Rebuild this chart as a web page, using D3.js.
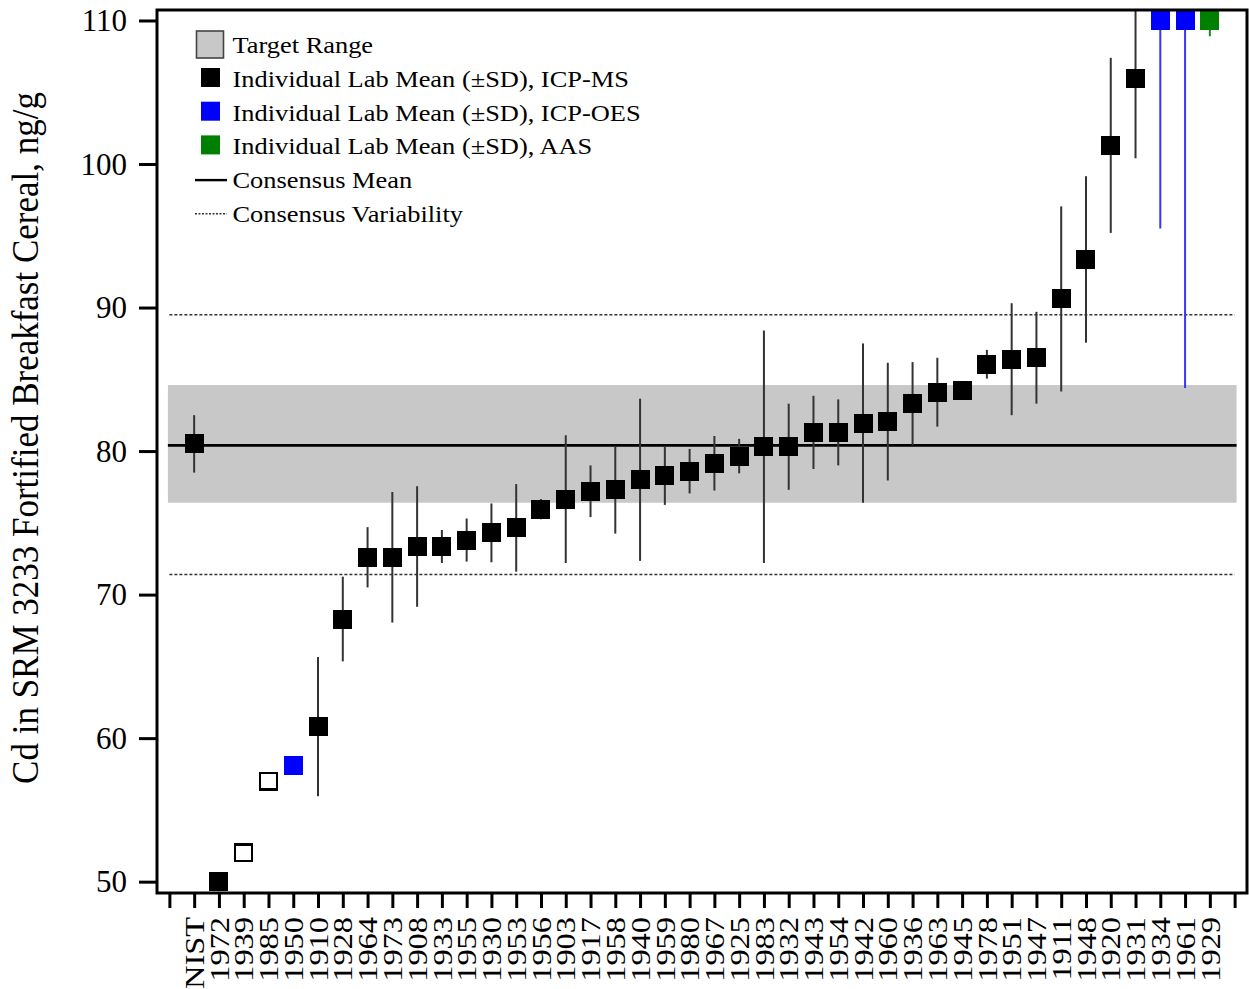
<!DOCTYPE html>
<html>
<head>
<meta charset="utf-8">
<script src="https://cdn.jsdelivr.net/npm/d3@7"></script>
<style>
  html, body { margin: 0; padding: 0; background: #fff; }
  svg { display: block; }
  text { font-family: "Liberation Serif", "Times New Roman", serif; fill: #000; }
</style>
</head>
<body>
<svg id="chart" width="1249" height="989"></svg>
<script>
// Laboratory codes, in plotting order
const labs = ["NIST","1972","1939","1985","1950","1910","1928","1964","1973","1908",
  "1933","1955","1930","1953","1956","1903","1917","1958","1940","1959",
  "1980","1967","1925","1983","1932","1943","1954","1942","1960","1936",
  "1963","1945","1978","1951","1947","1911","1948","1920","1931","1934",
  "1961","1929"];

// Lab means (ng/g); off-scale results are pinned to the top of the axis (110)
const labMeans = [80.5, 50.0, 52.0, 57.0, 58.1, 60.8, 68.3, 72.6, 72.6, 73.35,
  73.35, 73.8, 74.3, 74.65, 75.95, 76.65, 77.2, 77.3, 78.0, 78.3,
  78.6, 79.15, 79.65, 80.3, 80.3, 81.3, 81.3, 81.95, 82.05, 83.3,
  84.1, 84.2, 86.05, 86.4, 86.5, 90.6, 93.35, 101.3, 105.95, 110.0,
  110.0, 110.0];

// Standard deviations (null: no bar reported)
const labSDs = [2.0, null, null, null, null, 4.85, 2.95, 2.1, 4.55, 4.2,
  1.15, 1.5, 2.05, 3.05, 0.7, 4.45, 1.8, 3.05, 5.65, 2.05,
  1.55, 1.9, 1.2, 8.1, 3.0, 2.55, 2.3, 5.55, 4.1, 2.9,
  2.4, 0.6, 1.0, 3.9, 3.2, 6.45, 5.8, 6.1, 5.55, 14.5,
  25.6, 1.1];

// Measurement technique per lab ("none" = open marker)
const labMethods = ["ms","ms","none","none","oes","ms","ms","ms","ms","ms",
  "ms","ms","ms","ms","ms","ms","ms","ms","ms","ms",
  "ms","ms","ms","ms","ms","ms","ms","ms","ms","ms",
  "ms","ms","ms","ms","ms","ms","ms","ms","ms","oes",
  "oes","aas"];

const consensusMean = 80.4;
const targetRange = [76.4, 84.6];
const consensusVariability = [71.4, 89.5];

const yTicks = [50, 60, 70, 80, 90, 100, 110];

const legendLabels = [
  "Target Range",
  "Individual Lab Mean (\u00B1SD), ICP-MS",
  "Individual Lab Mean (\u00B1SD), ICP-OES",
  "Individual Lab Mean (\u00B1SD), AAS",
  "Consensus Mean",
  "Consensus Variability"
];

const methodFill = { ms: "#000000", oes: "#0000ff", aas: "#008000", none: "#ffffff" };
const barColor = { ms: "#333333", oes: "#3535ff", aas: "#1a8a1a", none: "#333333" };

const svg = d3.select("#chart");
const frame = { left: 157, right: 1247, top: 10, bottom: 893 };

const x = d3.scaleLinear().domain([-1.5, 42.5]).range([frame.left, frame.right]);
const y = d3.scaleLinear().domain([49.21, 110.73]).range([frame.bottom, frame.top]);

svg.append("defs").append("clipPath").attr("id", "plotClip")
  .append("rect")
  .attr("x", frame.left).attr("y", frame.top)
  .attr("width", frame.right - frame.left).attr("height", frame.bottom - frame.top);

const plot = svg.append("g").attr("clip-path", "url(#plotClip)");

const bandX0 = x(-1.06), bandX1 = x(42.08);

// target range band
plot.append("rect")
  .attr("x", bandX0).attr("width", bandX1 - bandX0)
  .attr("y", y(targetRange[1])).attr("height", y(targetRange[0]) - y(targetRange[1]))
  .attr("fill", "#c8c8c8");

// consensus mean
plot.append("line")
  .attr("x1", bandX0).attr("x2", bandX1)
  .attr("y1", y(consensusMean)).attr("y2", y(consensusMean))
  .attr("stroke", "#000").attr("stroke-width", 2.6);

// consensus variability
plot.selectAll("line.var").data(consensusVariability).join("line")
  .attr("class", "var")
  .attr("x1", x(-1.0)).attr("x2", bandX1 - 2)
  .attr("y1", d => y(d)).attr("y2", d => y(d))
  .attr("stroke", "#333").attr("stroke-width", 1.6)
  .attr("stroke-dasharray", "3,2");

const pts = labs.map((lab, i) => ({ i, lab, mean: labMeans[i], sd: labSDs[i], method: labMethods[i] }));

// error bars
plot.selectAll("line.err").data(pts.filter(d => d.sd != null)).join("line")
  .attr("class", "err")
  .attr("x1", d => x(d.i)).attr("x2", d => x(d.i))
  .attr("y1", d => y(d.mean + d.sd)).attr("y2", d => y(d.mean - d.sd))
  .attr("stroke", d => barColor[d.method]).attr("stroke-width", 2);

// lab means
const sq = 19;
plot.selectAll("rect.pt").data(pts).join("rect")
  .attr("class", "pt")
  .attr("x", d => x(d.i) - sq / 2).attr("y", d => y(d.mean) - sq / 2)
  .attr("width", sq).attr("height", sq)
  .attr("fill", d => methodFill[d.method])
  .attr("stroke", d => d.method === "none" ? "#000" : "none")
  .attr("stroke-width", 2.2)
  .attr("shape-rendering", "crispEdges");

// open markers drawn inset so outer size matches the filled ones
plot.selectAll("rect.pt").filter(d => d.method === "none")
  .attr("x", d => x(d.i) - sq / 2 + 1.1).attr("y", d => y(d.mean) - sq / 2 + 1.1)
  .attr("width", sq - 2.2).attr("height", sq - 2.2);

// frame
svg.append("rect")
  .attr("x", frame.left).attr("y", frame.top)
  .attr("width", frame.right - frame.left).attr("height", frame.bottom - frame.top)
  .attr("fill", "none").attr("stroke", "#000").attr("stroke-width", 3);

// y axis
const yAxis = svg.append("g")
  .attr("transform", `translate(${frame.left},0)`)
  .call(d3.axisLeft(y).tickValues(yTicks).tickSize(18).tickPadding(12).tickFormat(d3.format("d")));
yAxis.select(".domain").remove();
yAxis.selectAll(".tick line").attr("stroke", "#000").attr("stroke-width", 3);
yAxis.selectAll(".tick text")
  .style("font-family", "'Liberation Serif', serif")
  .attr("font-size", 31).attr("dy", "0.33em");

// x axis
const xAxis = svg.append("g")
  .attr("transform", `translate(0,${frame.bottom})`)
  .call(d3.axisBottom(x).tickValues(d3.range(-1, 43)).tickSize(15)
    .tickFormat(i => (i >= 0 && i < labs.length) ? labs[i] : ""));
xAxis.select(".domain").remove();
xAxis.selectAll(".tick line").attr("stroke", "#000").attr("stroke-width", 3);
xAxis.selectAll(".tick text")
  .style("font-family", "'Liberation Serif', serif")
  .attr("font-size", 27)
  .attr("x", 0).attr("y", 0).attr("dy", "0.34em")
  .attr("text-anchor", "end")
  .attr("transform", "translate(0,24) rotate(-90) scale(1.2,1)");

// y axis title
svg.append("text")
  .attr("transform", "translate(38,438) rotate(-90) scale(1,1.06)")
  .attr("text-anchor", "middle")
  .attr("font-size", 35)
  .text("Cd in SRM 3233 Fortified Breakfast Cereal, ng/g");

// legend
const legend = svg.append("g");
const rowY = i => 53.3 + i * 33.7;
const textX = 232.5;

legend.append("rect")
  .attr("x", 196.5).attr("y", 31).attr("width", 27).attr("height", 27)
  .attr("fill", "#c8c8c8").attr("stroke", "#444").attr("stroke-width", 1.6);

["ms", "oes", "aas"].forEach((m, k) => {
  legend.append("rect")
    .attr("x", 201).attr("y", rowY(k + 1) - 19)
    .attr("width", 19).attr("height", 19)
    .attr("fill", methodFill[m]);
});

legend.append("line")
  .attr("x1", 195).attr("x2", 227).attr("y1", rowY(4) - 8).attr("y2", rowY(4) - 8)
  .attr("stroke", "#000").attr("stroke-width", 2.4);
legend.append("line")
  .attr("x1", 195).attr("x2", 227).attr("y1", rowY(5) - 8).attr("y2", rowY(5) - 8)
  .attr("stroke", "#333").attr("stroke-width", 1.6).attr("stroke-dasharray", "2,1.5");

legend.selectAll("text.leg").data(legendLabels).join("text")
  .attr("class", "leg")
  .attr("font-size", 24)
  .attr("transform", (d, i) => `translate(${textX},${rowY(i)}) scale(1.1,1)`)
  .text(d => d);
</script>
</body>
</html>
